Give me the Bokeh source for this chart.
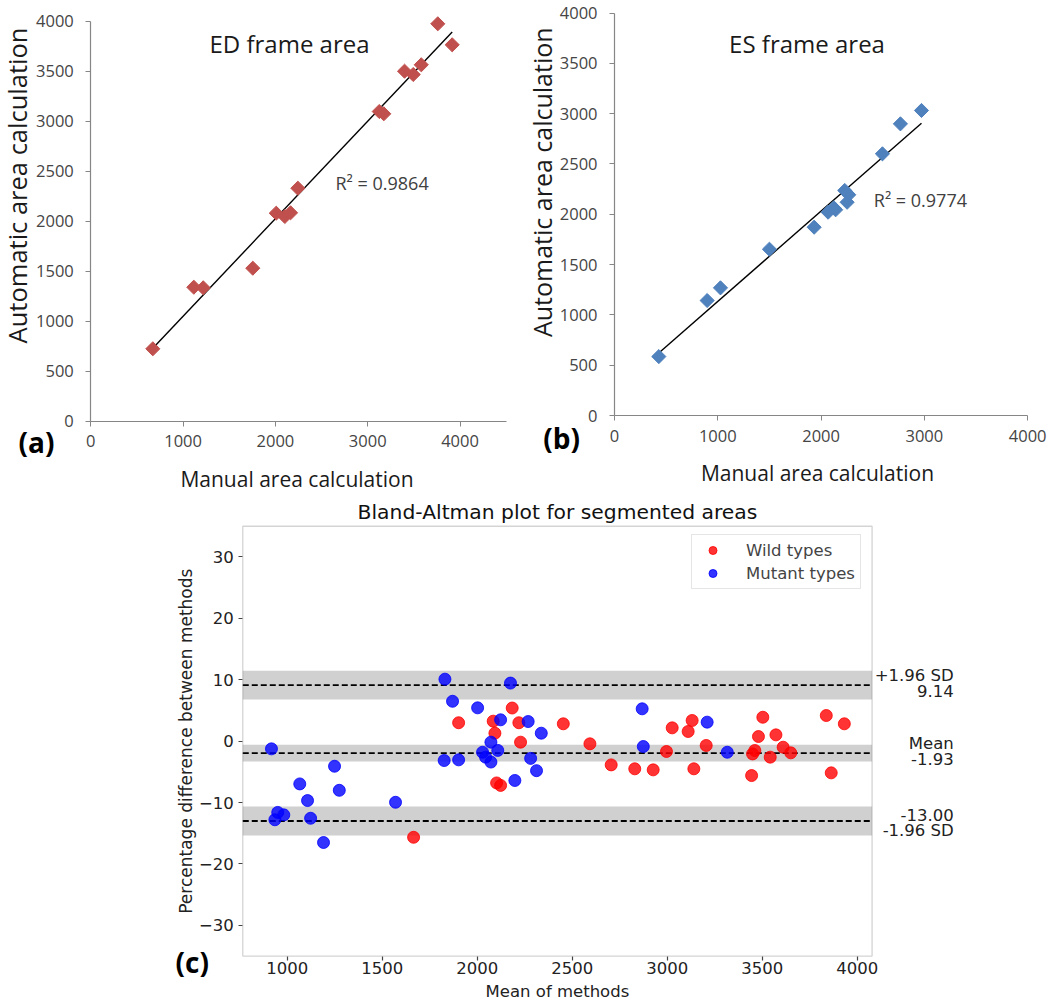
import numpy as np
from bokeh.plotting import figure
from bokeh.models import (Range1d, FixedTicker, Label, BoxAnnotation, Legend,
                          LegendItem, CustomJSTickFormatter)
from bokeh.layouts import column, row
from bokeh.embed import file_html
from bokeh.resources import INLINE

# ---------------- data ----------------
# (a) ED frame area
ed_manual = [672, 1116, 1218, 1755, 2009, 2102, 2164, 2243, 3125, 3174, 3399, 3493, 3580, 3759, 3915]
ed_auto = [724, 1340, 1334, 1530, 2080, 2047, 2084, 2330, 3097, 3074, 3500, 3467, 3564, 3974, 3764]
ed_r2 = "R\u00b2 = 0.9864"

# (b) ES frame area
es_manual = [429, 897, 1026, 1500, 1933, 2068, 2123, 2141, 2229, 2268, 2252, 2594, 2768, 2972]
es_auto = [586, 1143, 1269, 1653, 1872, 2021, 2065, 2045, 2237, 2194, 2120, 2601, 2899, 3032]
es_r2 = "R\u00b2 = 0.9774"

excel_y_ticks = [0, 500, 1000, 1500, 2000, 2500, 3000, 3500, 4000]
excel_x_ticks = [0, 1000, 2000, 3000, 4000]

# (c) Bland-Altman
wild_mean = [1665, 1902, 2084, 2093, 2102, 2123, 2184, 2219, 2228, 2453, 2593, 2705, 2829, 2926,
             2996, 3026, 3110, 3131, 3140, 3205, 3444, 3449, 3461, 3480, 3503, 3542, 3572, 3610,
             3650, 3837, 3863, 3932]
wild_diff = [-15.65, 3.0, 3.26, 1.3, -6.8, -7.2, 5.4, 3.0, -0.16, 2.83, -0.43, -3.86, -4.5, -4.67,
             -1.68, 2.17, 1.58, 3.37, -4.5, -0.7, -5.6, -2.07, -1.52, 0.76, 3.9, -2.6, 1.03, -0.98,
             -1.9, 4.18, -5.16, 2.83]
mutant_mean = [917, 935, 950, 982, 1066, 1107, 1123, 1191, 1249, 1274, 1570, 1830, 1826, 1870,
               1902, 2002, 2028, 2044, 2072, 2072, 2108, 2123, 2175, 2198, 2268, 2281, 2312, 2337,
               2868, 2874, 3210, 3316]
mutant_diff = [-1.25, -12.8, -11.6, -12.0, -6.96, -9.67, -12.55, -16.5, -4.08, -8.0, -9.95, 10.1,
               -3.15, 6.5, -3.04, 5.43, -1.8, -2.6, -3.4, -0.16, -1.5, 3.48, 9.46, -6.4, 3.2, -2.8,
               -4.8, 1.3, 5.27, -0.87, 3.1, -1.8]
ba_lines = [9.14, -1.93, -13.00]
ba_band_low = [6.79, -3.29, -15.35]
ba_band_high = [11.49, -0.57, -10.65]
ba_upper_text = ["+1.96 SD", "Mean", "-13.00"]
ba_lower_text = ["9.14", "-1.93", "-1.96 SD"]
ba_x_ticks = [1000, 1500, 2000, 2500, 3000, 3500, 4000]
ba_y_ticks = [-30, -20, -10, 0, 10, 20, 30]
ba_xlim = (766, 4078)
ba_ylim = (-35, 35)

EXF = "Open Sans"
MPF = "DejaVu Sans"


def excel_panel(xs, ys, color, xmax, xr, yr, width, title, r2, title_xy, r2_xy,
                xlab_xy, ylab_xy, ylab_size, tag, tag_xy):
    p = figure(width=width, height=492, x_range=Range1d(*xr), y_range=Range1d(*yr),
               min_border=0, output_backend="svg", toolbar_location=None)
    p.outline_line_color = None
    p.grid.visible = False
    xa, ya = p.xaxis[0], p.yaxis[0]
    xa.fixed_location = 0
    ya.fixed_location = 0
    xa.bounds = (0, xmax)
    ya.bounds = (0, 4000)
    xa.ticker = FixedTicker(ticks=excel_x_ticks)
    ya.ticker = FixedTicker(ticks=excel_y_ticks)
    for ax in (xa, ya):
        ax.axis_line_color = "#868686"
        ax.axis_line_width = 1.2
        ax.major_tick_line_color = "#868686"
        ax.major_tick_out = 5
        ax.major_tick_in = 0
        ax.minor_tick_line_color = None
        ax.major_label_text_font = EXF
        ax.major_label_text_font_size = "16.5px"
        ax.major_label_text_color = "#454545"
    xa.major_label_standoff = 9
    ya.major_label_standoff = 12

    # trend line (least squares fit of the points)
    k, b0 = np.polyfit(xs, ys, 1)
    lx = [min(xs), max(xs)]
    p.line(lx, [k * v + b0 for v in lx], line_color="black", line_width=1.4)
    p.scatter(xs, ys, marker="square", size=10, angle=np.pi / 4,
              fill_color=color, line_color=color)

    p.add_layout(Label(x=title_xy[0], y=title_xy[1], text=title, text_font=EXF,
                       text_font_size="24px", text_align="center", text_baseline="middle",
                       text_color="#1a1a1a"))
    p.add_layout(Label(x=r2_xy[0], y=r2_xy[1], text=r2, text_font=EXF,
                       text_font_size="18px", text_align="left", text_baseline="middle",
                       text_color="#404040"))
    p.add_layout(Label(x=xlab_xy[0], y=xlab_xy[1], text="Manual area calculation", text_font=EXF,
                       text_font_size="21px", text_align="center", text_baseline="middle",
                       text_color="#1a1a1a"))
    p.add_layout(Label(x=ylab_xy[0], y=ylab_xy[1], text="Automatic area calculation",
                       text_font=EXF, angle=np.pi / 2,
                       text_font_size=ylab_size, text_align="center", text_baseline="middle",
                       text_color="#1a1a1a"))
    p.add_layout(Label(x=tag_xy[0], y=tag_xy[1], text=tag, text_font=EXF,
                       text_font_size="28px", text_font_style="bold", text_align="center",
                       text_baseline="middle", text_color="black"))
    return p


pa = excel_panel(ed_manual, ed_auto, "#c0504d", 4500, (-978, 4720), (-713, 4207), 526,
                 "ED frame area", ed_r2, (2153, 3774), (2651, 2387),
                 (2234, -576), (-794, 2357), "25.5px", "(a)", (-588, -203))
pb = excel_panel(es_manual, es_auto, "#4f81bd", 4000, (-852, 4221), (-765, 4125), 524,
                 "ES frame area", es_r2, (1864, 3695), (2510, 2144),
                 (1965, -573), (-706, 2319), "25px", "(b)", (-513, -219))

# ---------------- (c) Bland-Altman ----------------
pc = figure(width=1050, height=511, x_range=Range1d(-509, 5017), y_range=Range1d(-42.72, 40.5),
            min_border=0, output_backend="svg", toolbar_location=None)
pc.grid.visible = False
pc.outline_line_color = None
xa, ya = pc.xaxis[0], pc.yaxis[0]
xa.fixed_location = ba_ylim[0]
ya.fixed_location = ba_xlim[0]
xa.bounds = ba_xlim
ya.bounds = ba_ylim
xa.ticker = FixedTicker(ticks=ba_x_ticks)
ya.ticker = FixedTicker(ticks=ba_y_ticks)
ya.formatter = CustomJSTickFormatter(
    code="return tick < 0 ? '\u2212' + Math.abs(tick) : String(tick);")
for ax in (xa, ya):
    ax.axis_line_color = None
    ax.major_tick_line_color = "#444444"
    ax.major_tick_line_width = 1.2
    ax.major_tick_out = 4
    ax.major_tick_in = 0
    ax.minor_tick_line_color = None
    ax.major_label_text_font = MPF
    ax.major_label_text_font_size = "16.5px"
    ax.major_label_text_color = "#222222"
xa.major_label_standoff = 2
ya.major_label_standoff = 5

for lo, hi in zip(ba_band_low, ba_band_high):
    pc.add_layout(BoxAnnotation(left=ba_xlim[0], right=ba_xlim[1], bottom=lo, top=hi,
                                fill_color="#d0d0d0", fill_alpha=1.0,
                                line_color=None, level="underlay"))
n = len(ba_lines)
pc.segment(x0=[ba_xlim[0]] * n, y0=ba_lines, x1=[ba_xlim[1]] * n, y1=ba_lines,
           line_color="black", line_width=1.8, line_dash="6 3")

r_w = pc.scatter(wild_mean, wild_diff, size=12, color="red", alpha=0.8)
r_m = pc.scatter(mutant_mean, mutant_diff, size=12, color="blue", alpha=0.8)

# axes box
pc.add_layout(BoxAnnotation(left=ba_xlim[0], right=ba_xlim[1], bottom=ba_ylim[0], top=ba_ylim[1],
                            fill_color=None, fill_alpha=0, line_color="#707070", line_width=1.3))

legend = Legend(items=[LegendItem(label="Wild types", renderers=[r_w]),
                       LegendItem(label="Mutant types", renderers=[r_m])],
                location=(691, 414), padding=5, spacing=3,
                glyph_width=31, glyph_height=20, label_standoff=18,
                label_text_font=MPF, label_text_font_size="16.5px",
                border_line_color="#cccccc", border_line_width=1,
                background_fill_alpha=0.8)
pc.add_layout(legend)

mid_x = (ba_xlim[0] + ba_xlim[1]) / 2
pc.add_layout(Label(x=mid_x, y=37.4, text="Bland-Altman plot for segmented areas",
                    text_font=MPF, text_font_size="20.3px", text_align="center",
                    text_baseline="middle", text_color="#111111"))
pc.add_layout(Label(x=mid_x, y=-40.8, text="Mean of methods",
                    text_font=MPF, text_font_size="16.5px", text_align="center",
                    text_baseline="middle", text_color="#222222"))
pc.add_layout(Label(x=465, y=0, text="Percentage difference between methods", angle=np.pi / 2,
                    text_font=MPF, text_font_size="17px", text_align="center",
                    text_baseline="middle", text_color="#222222"))

for v, up, lo in zip(ba_lines, ba_upper_text, ba_lower_text):
    pc.add_layout(Label(x=4508, y=v, text=up, text_align="right", text_baseline="bottom",
                        text_font=MPF, text_font_size="16.5px", text_color="#222222"))
    pc.add_layout(Label(x=4508, y=v, text=lo, text_align="right", text_baseline="top",
                        text_font=MPF, text_font_size="16.5px", text_color="#222222"))

pc.add_layout(Label(x=500, y=-36.0, text="(c)", text_font=EXF, text_font_size="28px",
                    text_font_style="bold", text_align="center", text_baseline="middle",
                    text_color="black"))

layout = column(row(pa, pb), pc)
open("out.html", "w").write(file_html(layout, INLINE))
